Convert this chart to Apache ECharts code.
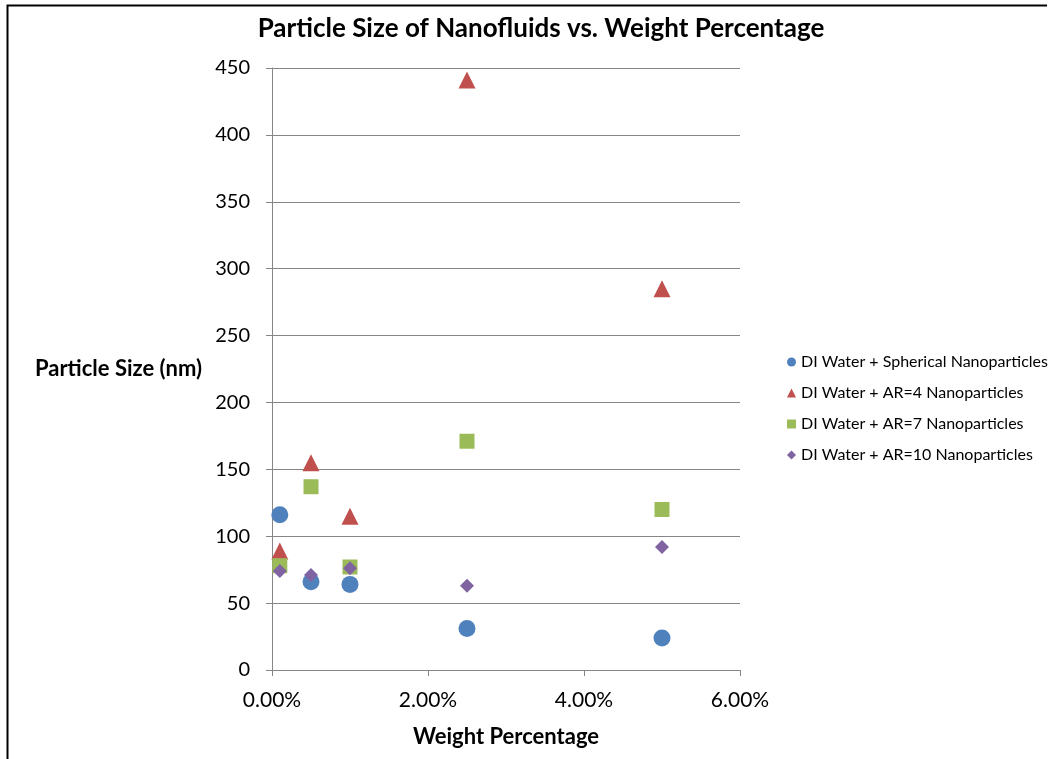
<!DOCTYPE html>
<html>
<head>
<meta charset="utf-8">
<script src="https://cdn.jsdelivr.net/npm/echarts@6/dist/echarts.min.js"></script>
<style>
  html, body { margin: 0; padding: 0; background: #fff; }
  #chart { width: 1052px; height: 759px; }
</style>
</head>
<body>
<div id="chart"></div>
<script>
// Weight fraction (%) for each measured sample
const weightPct = [0.1, 0.5, 1.0, 2.5, 5.0];

// Particle size (nm) per nanoparticle type
const spherical = [116, 66, 64, 31, 24];
const ar4 = [89, 155, 115, 441, 285];
const ar7 = [78, 137, 77, 171, 120];
const ar10 = [74, 71, 76, 63, 92];

const seriesNames = [
  'DI Water + Spherical Nanoparticles',
  'DI Water + AR=4 Nanoparticles',
  'DI Water + AR=7 Nanoparticles',
  'DI Water + AR=10 Nanoparticles'
];

const FONT = 'Lato, "Open Sans", sans-serif';

function pairs(ys) {
  return weightPct.map((x, i) => [x, ys[i]]);
}

const chart = echarts.init(document.getElementById('chart'));

const mk = (name, ys, symbol, size, color) => ({
  name: name,
  type: 'scatter',
  data: pairs(ys),
  symbol: symbol,
  symbolSize: size,
  itemStyle: { color: color, opacity: 1 },
  emphasis: { disabled: true }
});

chart.setOption({
  animation: false,
  backgroundColor: '#fff',
  title: {
    text: 'Particle Size of Nanofluids vs. Weight Percentage',
    left: 536,
    textAlign: 'center',
    top: 11,
    textStyle: { fontFamily: FONT, fontWeight: 'bold', fontSize: 26, color: '#000' }
  },
  legend: {
    orient: 'vertical',
    left: 782,
    top: 349,
    itemGap: 15,
    itemWidth: 9,
    itemHeight: 9,
    textStyle: { fontFamily: FONT, fontSize: 16, color: '#000' },
    data: [
      { name: seriesNames[0], icon: 'circle' },
      { name: seriesNames[1], icon: 'triangle' },
      { name: seriesNames[2], icon: 'rect' },
      { name: seriesNames[3], icon: 'diamond' }
    ]
  },
  grid: { left: 272, right: 312, top: 68, bottom: 89, containLabel: false, outerBoundsMode: 'none' },
  xAxis: {
    type: 'value',
    min: 0,
    max: 6,
    interval: 2,
    name: 'Weight Percentage',
    nameLocation: 'middle',
    nameGap: 56,
    nameTextStyle: { fontFamily: FONT, fontWeight: 'bold', fontSize: 22, color: '#000' },
    axisLine: { show: true, lineStyle: { color: '#868686', width: 1 } },
    axisTick: { show: true, length: 6, lineStyle: { color: '#868686' } },
    splitLine: { show: false },
    axisLabel: {
      fontFamily: FONT, fontSize: 21, color: '#000', margin: 20,
      formatter: v => v.toFixed(2) + '%'
    }
  },
  yAxis: {
    type: 'value',
    min: 0,
    max: 450,
    interval: 50,
    name: 'Particle Size (nm)',
    nameLocation: 'middle',
    nameRotate: 0,
    nameGap: 70,
    nameTextStyle: { fontFamily: FONT, fontWeight: 'bold', fontSize: 22, color: '#000' },
    axisLine: { show: true, lineStyle: { color: '#868686', width: 1 } },
    axisTick: { show: true, length: 6, lineStyle: { color: '#868686' } },
    splitLine: { show: true, lineStyle: { color: '#868686', width: 1 } },
    axisLabel: { fontFamily: FONT, fontSize: 20, color: '#000', margin: 22 }
  },
  graphic: [{
    type: 'polyline',
    shape: { points: [[7.5, 759], [7.5, 5.5], [1047, 5.5]] },
    style: { fill: 'none', stroke: '#000', lineWidth: 2 },
    silent: true
  }],
  series: [
    mk(seriesNames[0], spherical, 'circle', 17, '#4F81BD'),
    mk(seriesNames[1], ar4, 'triangle', 17, '#C0504D'),
    mk(seriesNames[2], ar7, 'rect', 15, '#9BBB59'),
    mk(seriesNames[3], ar10, 'diamond', 14, '#8064A2')
  ]
});
</script>
</body>
</html>
